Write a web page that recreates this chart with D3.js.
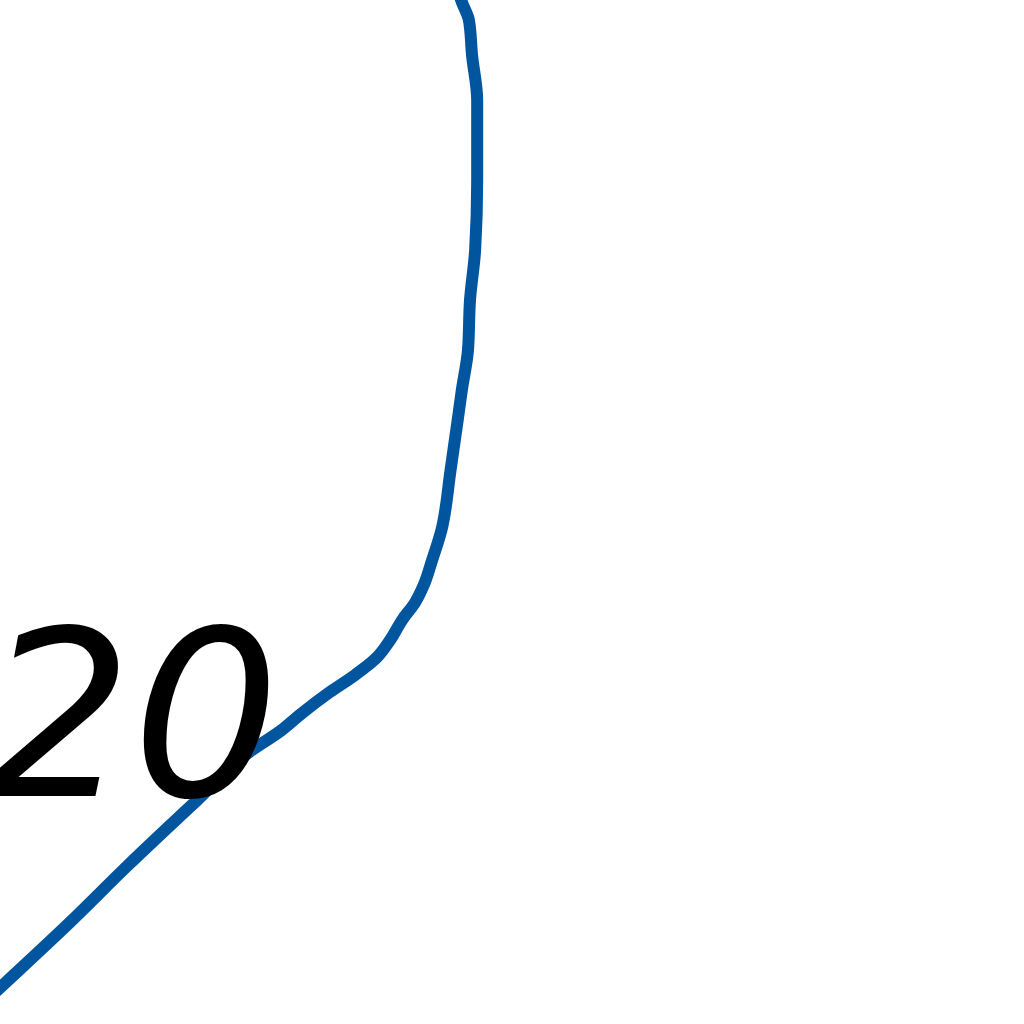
<!DOCTYPE html>
<html lang="en">
<head>
  <meta charset="UTF-8">
  <title>Chart</title>
  <style>
    body { margin: 0; background: #fff; }
    svg { display: block; }
  </style>
</head>
<body>
  <svg id="container" width="1024" height="1024">
    <g id="body"></g>
  </svg>
<script src="https://cdn.jsdelivr.net/npm/d3@7"></script>
<script>
  // curve, bottom to top
  const xValues = [-0.10, 0.05, 0.68, 1.25, 1.93, 2.44, 2.75, 2.93, 3.22, 3.47, 3.66, 3.81, 3.93, 4.05,
                   4.14, 4.22, 4.31, 4.40, 4.47, 4.51, 4.57, 4.59, 4.64, 4.66, 4.66, 4.61, 4.58, 4.51, 4.47]
  const yValues = [0.26, 0.40, 0.99, 1.55, 2.19, 2.66, 2.87, 3.02, 3.24, 3.41, 3.56, 3.75, 3.95, 4.11,
                   4.29, 4.53, 4.82, 5.41, 5.90, 6.19, 6.58, 7.07, 7.56, 8.24, 9.02, 9.46, 9.80, 9.98, 10.10]
  const tickLabels = ["20"]
  const tickValues = [2.23]

  let width = 1024
  let height = 1024

  let container = d3.select("#body")

  let xScale = d3.scaleLinear().domain([0, 10]).range([0, width])
  let yScale = d3.scaleLinear().domain([0, 10]).range([height, 0])

  let points = xValues.map((x, i) => [x, yValues[i]])

  let line = d3.line()
               .x(d => xScale(d[0]))
               .y(d => yScale(d[1]))
               .curve(d3.curveMonotoneY)

  container.append("path")
           .datum(points)
           .attr("d", line)
           .attr("fill", "none")
           .attr("stroke", "#00559f")
           .attr("stroke-width", 12)
           .attr("stroke-linejoin", "round")

  // label left of the curve, close to the frame edge
  container.selectAll("text")
           .data(tickLabels)
           .enter()
           .append("text")
           .text(d => d)
           .attr("x", xScale(-0.15))
           .attr("y", (d, i) => yScale(tickValues[i]))
           .attr("font-family", "DejaVu Sans")
           .attr("font-style", "oblique")
           .attr("font-size", 232)
           .attr("fill", "#000")
</script>
</body>
</html>
